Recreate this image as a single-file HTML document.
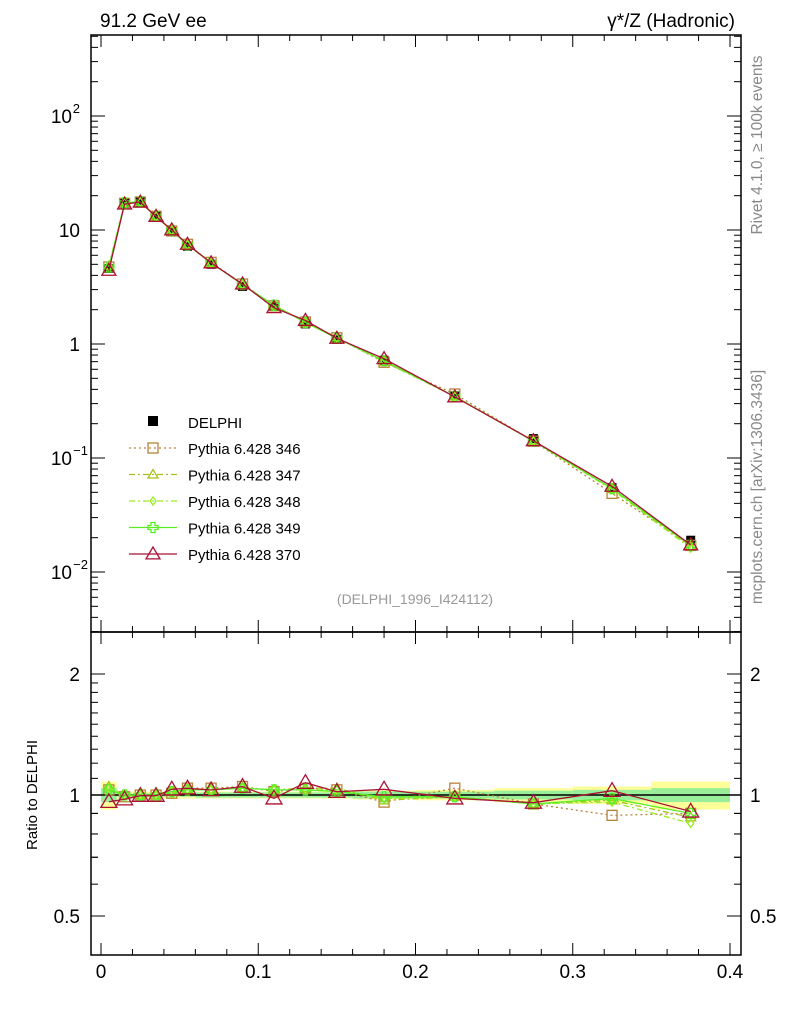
<!DOCTYPE html>
<html><head><meta charset="utf-8"><style>
body{margin:0;background:#fff;font-family:"Liberation Sans",sans-serif}
svg text{font-family:"Liberation Sans","DejaVu Sans",sans-serif}
</style></head><body>
<svg id="c" width="786" height="1024" xmlns="http://www.w3.org/2000/svg">
<text x="100" y="27" font-size="19">91.2 GeV ee</text>
<text x="735" y="27" font-size="19" text-anchor="end">γ*/Z (Hadronic)</text>
<text transform="translate(762,145) rotate(-90)" font-size="15.5" fill="#888" text-anchor="middle">Rivet 4.1.0, ≥ 100k events</text>
<text transform="translate(762,487) rotate(-90)" font-size="15.5" fill="#888" text-anchor="middle">mcplots.cern.ch [arXiv:1306.3436]</text>
<text x="415" y="604" font-size="14" fill="#999" text-anchor="middle">(DELPHI_1996_I424112)</text>
<text transform="translate(37,795) rotate(-90)" font-size="15" text-anchor="middle">Ratio to DELPHI</text>
<g id="bands"></g><g id="plot"></g><g id="axes"></g>
</svg>
<script>
const xs=[0.005,0.015,0.025,0.035,0.045,0.055,0.07,0.09,0.11,0.13,0.15,0.18,0.225,0.275,0.325,0.375];
const edges=[0,0.01,0.02,0.03,0.04,0.05,0.06,0.08,0.10,0.12,0.14,0.16,0.20,0.25,0.30,0.35,0.40];
const data=[4.6,17.3,17.6,13.2,9.7,7.2,5.0,3.2,2.12,1.5,1.1,0.72,0.35,0.148,0.055,0.019];
const bandTot=[0.08,0.02,0.02,0.02,0.02,0.02,0.02,0.02,0.02,0.02,0.02,0.025,0.03,0.04,0.05,0.08];
const bandStat=[0.04,0.01,0.01,0.01,0.01,0.01,0.015,0.015,0.015,0.015,0.015,0.02,0.02,0.025,0.03,0.04];
const r346=[1.03,0.99,1.0,1.0,1.01,1.04,1.04,1.05,1.02,1.04,1.03,0.96,1.04,0.95,0.89,0.9];
const r347=[1.05,1.0,1.0,1.0,1.02,1.03,1.03,1.04,1.03,1.04,1.04,0.97,0.99,0.95,0.97,0.88];
const r348=[1.04,1.0,1.0,1.0,1.02,1.03,1.03,1.04,1.03,1.03,1.03,0.98,0.99,0.95,0.96,0.85];
const r349=[1.03,1.0,1.0,1.0,1.02,1.03,1.03,1.04,1.03,1.03,1.02,0.99,0.99,0.95,0.98,0.9];
const r370=[0.962,0.976,0.996,0.996,1.033,1.039,1.029,1.049,0.981,1.073,1.019,1.033,0.981,0.957,1.025,0.91];
const xTicks=[0,0.1,0.2,0.3,0.4];
const NS="http://www.w3.org/2000/svg";
const X=v=>101+v*1572.5;
const Y=v=>116-(Math.log10(v)-2)*114;
const R=v=>795-Math.log10(v)*402;
function mk(p,t,a){const e=document.createElementNS(NS,t);for(const k in a)e.setAttribute(k,a[k]);p.appendChild(e);return e;}
const bands=document.getElementById('bands'),plot=document.getElementById('plot'),axes=document.getElementById('axes');
for(let i=0;i<xs.length;i++){
 const x0=X(edges[i]),x1=X(edges[i+1]);
 let b=mk(bands,'rect',{x:x0,y:R(1+bandTot[i]),width:x1-x0,height:R(1-bandTot[i])-R(1+bandTot[i]),fill:'#ffff99'});
 
 
 let g=mk(bands,'rect',{x:x0,y:R(1+bandStat[i]),width:x1-x0,height:R(1-bandStat[i])-R(1+bandStat[i]),fill:'#99ee99'});
 
 
}
let one=mk(bands,'line',{x1:91,x2:741,y1:R(1),y2:R(1),stroke:'#000','stroke-width':1.5});


const series=[
 {n:'346',r:r346,c:'#b8823a',d:'2,3',m:'sq'},
 {n:'347',r:r347,c:'#a6c21e',d:'6,3,2,3',m:'tri'},
 {n:'348',r:r348,c:'#99ee22',d:'6,3,2,3',m:'dia'},
 {n:'349',r:r349,c:'#55ee22',d:'',m:'plus'},
 {n:'370',r:r370,c:'#aa1133',d:'',m:'tri'}];
function marker(p,type,x,y,c,s){
 let e;
 if(type==='sq')e=mk(p,'rect',{x:x-5,y:y-5,width:10,height:10,fill:'none',stroke:c,'stroke-width':1.3});
 else if(type==='tri'){const h=s||7;e=mk(p,'polygon',{points:`${x},${y-h} ${x-h},${y+h*0.7} ${x+h},${y+h*0.7}`,fill:'none',stroke:c,'stroke-width':1.3});}
 else if(type==='dia')e=mk(p,'polygon',{points:`${x},${y-4} ${x-3},${y} ${x},${y+4} ${x+3},${y}`,fill:'none',stroke:c,'stroke-width':1.3});
 else e=mk(p,'path',{d:`M${x-2},${y-5}h4v3h3v4h-3v3h-4v-3h-3v-4h3z`,fill:'none',stroke:c,'stroke-width':1.3});
 return e;
}
xs.forEach((x,i)=>{
 let d=mk(plot,'rect',{x:X(x)-4.5,y:Y(data[i])-4.5,width:9,height:9,fill:'#000'});
 
 
});
series.forEach(s=>{
 const pm=xs.map((x,i)=>X(x)+','+Y(data[i]*s.r[i])).join(' ');
 let l=mk(plot,'polyline',{points:pm,fill:'none',stroke:s.c,'stroke-width':1.3,'stroke-dasharray':s.d});
 
 
 const pr=xs.map((x,i)=>X(x)+','+R(s.r[i])).join(' ');
 let lr=mk(plot,'polyline',{points:pr,fill:'none',stroke:s.c,'stroke-width':1.3,'stroke-dasharray':s.d});
 
 
 xs.forEach((x,i)=>{
  let m=marker(plot,s.m,X(x),Y(data[i]*s.r[i]),s.c,s.n==='370'?7:5);
  
  
  let m2=marker(plot,s.m,X(x),R(s.r[i]),s.c,s.n==='370'?8:5);
  
  
 });
});
let f1=mk(axes,'rect',{x:91,y:35,width:650,height:597,fill:'none',stroke:'#000','stroke-width':1.5});


let f2=mk(axes,'rect',{x:91,y:632,width:650,height:323,fill:'none',stroke:'#000','stroke-width':1.5});


function tick(x1,y1,x2,y2){mk(axes,'line',{x1,y1,x2,y2,stroke:'#000','stroke-width':1});}
for(let v=0;v<=0.4001;v+=0.02){const big=Math.abs(v*10-Math.round(v*10))<1e-6;const L=big?12:6;
 [[35,1],[632,-1],[632,1],[955,-1]].forEach(([y,d])=>tick(X(v),y,X(v),y+d*L));}
xTicks.forEach(v=>{let t=mk(axes,'text',{x:X(v),y:978,'font-size':19,'text-anchor':'middle'});t.textContent=v===0?'0':String(v);
 
 });
for(let e=-3;e<=2;e++)for(let k=1;k<10;k++){const v=k*Math.pow(10,e);const y=Y(v);if(y<35||y>632)continue;const L=k===1?14:7;tick(91,y,91+L,y);tick(741,y,741-L,y);}
const yl=[[100,'10','2'],[10,'10',''],[1,'1',''],[0.1,'10','−1'],[0.01,'10','−2']];
yl.forEach(([v,b,s])=>{let t=mk(axes,'text',{x:s?72:80,y:Y(v)+7,'font-size':19,'text-anchor':'end'});t.textContent=b;
 
 
 if(s){let u=mk(axes,'text',{x:s.length>1?88:80,y:Y(v)-3,'font-size':13,'text-anchor':'end'});u.textContent=s;}});
[0.5,0.6,0.7,0.8,0.9,1,2].forEach(v=>{const y=R(v);const L=(v===0.5||v===1||v===2)?14:7;tick(91,y,91+L,y);tick(741,y,741-L,y);});
[0.7,0.8,0.9,1.1,1.2,1.3,1.4,1.5,1.6,1.7,1.8,1.9].forEach(v=>{tick(91,R(v),98,R(v));tick(741,R(v),734,R(v));});
[[2,'2'],[1,'1'],[0.5,'0.5']].forEach(([v,s])=>{
 let t=mk(axes,'text',{x:80,y:R(v)+7,'font-size':19,'text-anchor':'end'});t.textContent=s;
 
 
 let t2=mk(axes,'text',{x:750,y:R(v)+7,'font-size':19});t2.textContent=s;
 
 });
const lg=mk(axes,'g',{});


mk(lg,'rect',{x:148,y:416,width:10,height:10,fill:'#000'});
let dt=mk(lg,'text',{x:188,y:428,'font-size':15});dt.textContent='DELPHI';
series.forEach((s,i)=>{const y=448+i*26.5;
 mk(lg,'line',{x1:129,x2:177,y1:y,y2:y,stroke:s.c,'stroke-width':1.3,'stroke-dasharray':s.d});
 marker(lg,s.m,153,y,s.c,s.n==='370'?7:5);
 let t=mk(lg,'text',{x:188,y:y+6,'font-size':15});t.textContent='Pythia 6.428 '+s.n;
 
 });
</script>
</body></html>
